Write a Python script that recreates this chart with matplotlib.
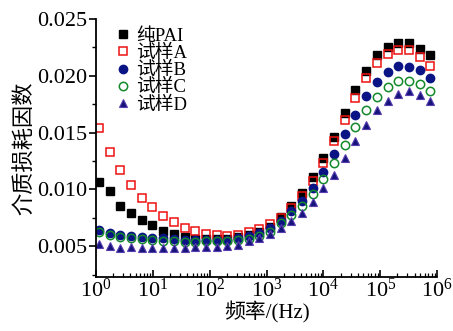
import matplotlib
matplotlib.use("Agg")
import matplotlib.pyplot as plt
from matplotlib.ticker import LogLocator, MultipleLocator, FormatStrFormatter, NullFormatter

plt.rcParams['font.family'] = ['Liberation Serif', 'Noto Sans CJK SC']
plt.rcParams['mathtext.fontset'] = 'stix'

freq = [1.13, 1.74, 2.69, 4.14, 6.38, 9.84, 15.1, 23.3, 36.0, 55.5, 85.5, 132, 203, 313,
        483, 745, 1148, 1770, 2725, 4200, 6470, 9980, 15400, 23700, 36600, 56400, 86900,
        134000, 206500, 318000, 490000, 755000]

pure_pai = [0.01065, 0.00987, 0.00858, 0.00794, 0.00734, 0.00684, 0.00639, 0.00607, 0.00581,
            0.00567, 0.00563, 0.00563, 0.00567, 0.00578, 0.00598, 0.0063, 0.00673, 0.0076,
            0.00858, 0.00968, 0.01106, 0.01273, 0.01458, 0.01669, 0.01871, 0.02044, 0.0218,
            0.02255, 0.0229, 0.02284, 0.02232, 0.0218]
sample_a = [0.01539, 0.01329, 0.01167, 0.0104, 0.00927, 0.00844, 0.00768, 0.0071, 0.00665,
            0.00632, 0.0061, 0.00598, 0.00593, 0.00604, 0.00624, 0.0065, 0.00697, 0.00752,
            0.00838, 0.00942, 0.01077, 0.01236, 0.01424, 0.01611, 0.01805, 0.01978, 0.02113,
            0.02191, 0.02226, 0.02226, 0.02165, 0.02087]
sample_b = [0.00645, 0.0062, 0.006, 0.0059, 0.0058, 0.00575, 0.0057, 0.00565, 0.0056,
            0.0056, 0.0056, 0.0056, 0.0056, 0.0057, 0.0059, 0.0062, 0.0066, 0.0072,
            0.00812, 0.00898, 0.01013, 0.01158, 0.01314, 0.0149, 0.01658, 0.01819, 0.01949,
            0.02035, 0.02084, 0.02078, 0.02047, 0.01978]
sample_c = [0.00627, 0.00604, 0.00584, 0.00575, 0.00563, 0.00555, 0.00549, 0.00543, 0.00537,
            0.00535, 0.0055, 0.0055, 0.0055, 0.00555, 0.00565, 0.0059, 0.0063, 0.00708,
            0.00777, 0.00858, 0.00961, 0.01091, 0.01233, 0.01394, 0.0155, 0.01703, 0.01813,
            0.01905, 0.01957, 0.01957, 0.01929, 0.01862]
sample_d = [0.00523, 0.00506, 0.00489, 0.00491, 0.00485, 0.00485, 0.00485, 0.00485, 0.00485,
            0.0049, 0.0049, 0.0049, 0.005, 0.00515, 0.00543, 0.00572, 0.00607, 0.00665,
            0.00725, 0.00794, 0.00887, 0.01011, 0.0113, 0.01279, 0.01429, 0.01568, 0.01697,
            0.01781, 0.01836, 0.01865, 0.01833, 0.01775]

labels = ['纯PAI', '试样A', '试样B', '试样C', '试样D']

fig = plt.figure(figsize=(4.53, 3.31), dpi=100)
ax = fig.add_axes([0.212, 0.163, 0.753, 0.78])

ms = 5.5
ax.plot(freq, pure_pai, ls='none', marker='s', ms=ms, mfc='black', mec='black', label=labels[0])
ax.plot(freq, sample_a, ls='none', marker='s', ms=ms, mfc='none', mec='#ee1111', mew=1.1, label=labels[1])
ax.plot(freq, sample_b, ls='none', marker='o', ms=ms+0.5, mfc='#0a1484', mec='#0a1484', label=labels[2])
ax.plot(freq, sample_c, ls='none', marker='o', ms=ms+0.5, mfc='none', mec='#128a2a', mew=1.1, label=labels[3])
ax.plot(freq, sample_d, ls='none', marker='^', ms=ms+0.5, mfc='#14147a', mec='#5a3cb0', mew=0.8, label=labels[4])

ax.set_xscale('log')
ax.set_xlim(1, 1e6)
ax.set_ylim(0.0023, 0.025)

ax.spines['top'].set_visible(False)
ax.spines['right'].set_visible(False)
for s in ['left', 'bottom']:
    ax.spines[s].set_linewidth(1.3)

ax.xaxis.set_major_locator(LogLocator(base=10, numticks=10))
ax.xaxis.set_minor_locator(LogLocator(base=10, subs=range(2, 10), numticks=10))
ax.xaxis.set_minor_formatter(NullFormatter())
ax.yaxis.set_major_locator(MultipleLocator(0.005))
ax.yaxis.set_minor_locator(MultipleLocator(0.0025))
ax.yaxis.set_major_formatter(FormatStrFormatter('%.3f'))

ax.tick_params(axis='x', which='major', direction='in', length=5, width=1.2, labelsize=16, pad=1)
ax.tick_params(axis='x', which='minor', direction='in', length=3, width=0.9)
ax.tick_params(axis='y', which='major', direction='out', length=5, width=1.2, labelsize=16, pad=1)
ax.tick_params(axis='y', which='minor', direction='out', length=3, width=1.0)

ax.set_ylabel('介质损耗因数', fontsize=16, labelpad=2)
ax.set_xlabel('频率/(Hz)', fontsize=15, labelpad=0)

leg = ax.legend(loc='upper left', bbox_to_anchor=(0.03, 1.01), frameon=False, fontsize=13.5,
                handlelength=0.6, handletextpad=0.4, labelspacing=0.0, borderaxespad=0.2)

fig.savefig('out.png', dpi=100)
